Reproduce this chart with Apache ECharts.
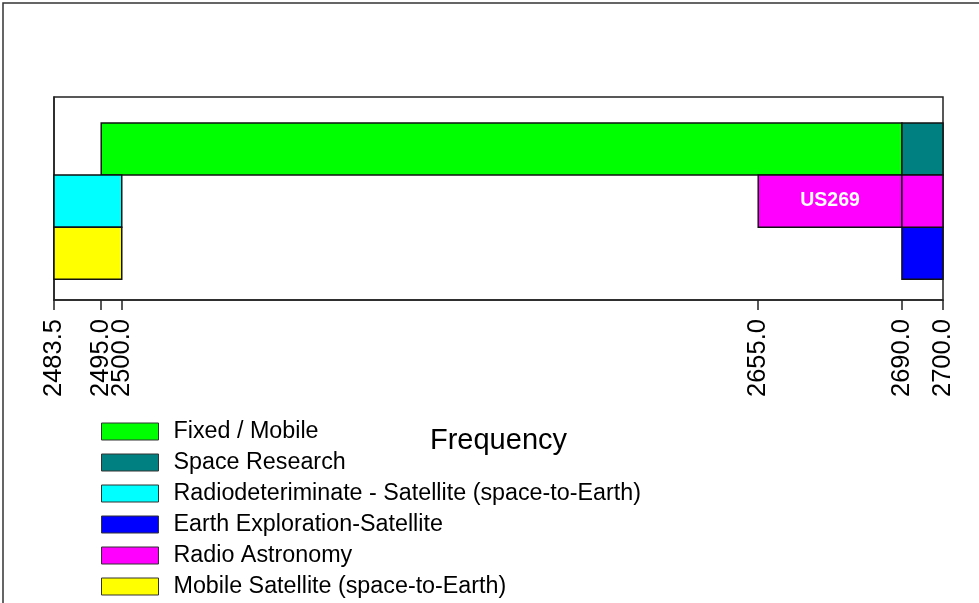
<!DOCTYPE html>
<html>
<head>
<meta charset="utf-8">
<script src="https://cdn.jsdelivr.net/npm/echarts@6/dist/echarts.min.js"></script>
<style>
  html, body { margin: 0; padding: 0; background: #fff; }
  #chart { width: 979px; height: 603px; }
</style>
</head>
<body>
<div id="chart"></div>
<script>
  // band edges shown on the frequency axis (MHz)
  var tickValues = [2483.5, 2495.0, 2500.0, 2655.0, 2690.0, 2700.0];

  // service names, in legend order
  var services = [
    'Fixed / Mobile',
    'Space Research',
    'Radiodeteriminate - Satellite (space-to-Earth)',
    'Earth Exploration-Satellite',
    'Radio Astronomy',
    'Mobile Satellite (space-to-Earth)'
  ];
  var serviceColors = ['#00ff00', '#008080', '#00ffff', '#0000ff', '#ff00ff', '#ffff00'];

  // allocations per service: [start MHz, end MHz, row, footnote]
  var fixedMobile = [[2495.0, 2690.0, 0, '']];
  var spaceResearch = [[2690.0, 2700.0, 0, '']];
  var radioDet = [[2483.5, 2500.0, 1, '']];
  var earthExpl = [[2690.0, 2700.0, 2, '']];
  var radioAstro = [[2655.0, 2690.0, 1, 'US269'], [2690.0, 2700.0, 1, '']];
  var mobileSat = [[2483.5, 2500.0, 2, '']];
  var allocations = [fixedMobile, spaceResearch, radioDet, earthExpl, radioAstro, mobileSat];

  var FONT = '"Liberation Sans", Arial, sans-serif';
  var chart = echarts.init(document.getElementById('chart'));

  function renderBand(params, api) {
    var p0 = api.coord([api.value(0), api.value(2) + 0.5]);
    var p1 = api.coord([api.value(1), api.value(2) + 1.5]);
    var x = Math.min(p0[0], p1[0]), y = Math.min(p0[1], p1[1]);
    var w = Math.abs(p1[0] - p0[0]), h = Math.abs(p1[1] - p0[1]);
    var note = api.value(3);
    return {
      type: 'rect',
      shape: { x: x, y: y, width: w, height: h },
      style: {
        fill: api.visual('color'),
        stroke: '#111',
        lineWidth: 1.5,
        text: note || '',
        textFill: '#fff',
        fontSize: 19.5,
        fontWeight: 'bold',
        fontFamily: FONT,
        textPosition: 'inside'
      }
    };
  }

  var series = services.map(function (name, i) {
    return {
      name: name,
      type: 'custom',
      renderItem: renderBand,
      encode: { x: [0, 1], y: 2 },
      itemStyle: { color: serviceColors[i] },
      data: allocations[i],
      silent: true
    };
  });

  chart.setOption({
    backgroundColor: '#fff',
    animation: false,
    graphic: [{
      type: 'rect',
      shape: { x: 3, y: 3, width: 1100, height: 800 },
      style: { fill: 'none', stroke: '#333', lineWidth: 1.5 }
    }],
    legend: {
      orient: 'vertical',
      left: 101,
      top: 420,
      height: 400,
      padding: 0,
      itemWidth: 57,
      itemHeight: 17,
      itemGap: 8,
      icon: 'rect',
      itemStyle: { borderColor: '#333', borderWidth: 1 },
      textStyle: { fontSize: 23.3, fontFamily: FONT, color: '#000', padding: [0, 0, 0, 10] },
      selectedMode: false,
      data: services
    },
    grid: {
      left: 54,
      right: 36,
      top: 97,
      bottom: 303,
      show: true,
      borderColor: '#222',
      borderWidth: 1.5
    },
    xAxis: {
      type: 'value',
      min: 2483.5,
      max: 2700,
      name: 'Frequency',
      nameLocation: 'middle',
      nameGap: 126,
      nameTextStyle: { fontSize: 29, fontFamily: FONT, color: '#000' },
      splitLine: { show: false },
      axisLine: { show: true, onZero: false, lineStyle: { color: '#222', width: 1.5 } },
      axisTick: {
        show: true,
        inside: false,
        length: 10,
        customValues: tickValues,
        lineStyle: { color: '#222', width: 1.5 }
      },
      axisLabel: {
        customValues: tickValues,
        rotate: 90,
        margin: 19,
        fontSize: 25.5,
        fontFamily: FONT,
        color: '#000',
        hideOverlap: false,
        showMinLabel: true,
        showMaxLabel: true,
        formatter: function (v) { return v.toFixed(1); }
      }
    },
    yAxis: {
      type: 'value',
      inverse: true,
      min: 0,
      max: 3.9,
      splitLine: { show: false },
      axisLine: { show: true, onZero: false, lineStyle: { color: '#222', width: 1.5 } },
      axisTick: { show: false },
      axisLabel: { show: false }
    },
    series: series
  });
</script>
</body>
</html>
